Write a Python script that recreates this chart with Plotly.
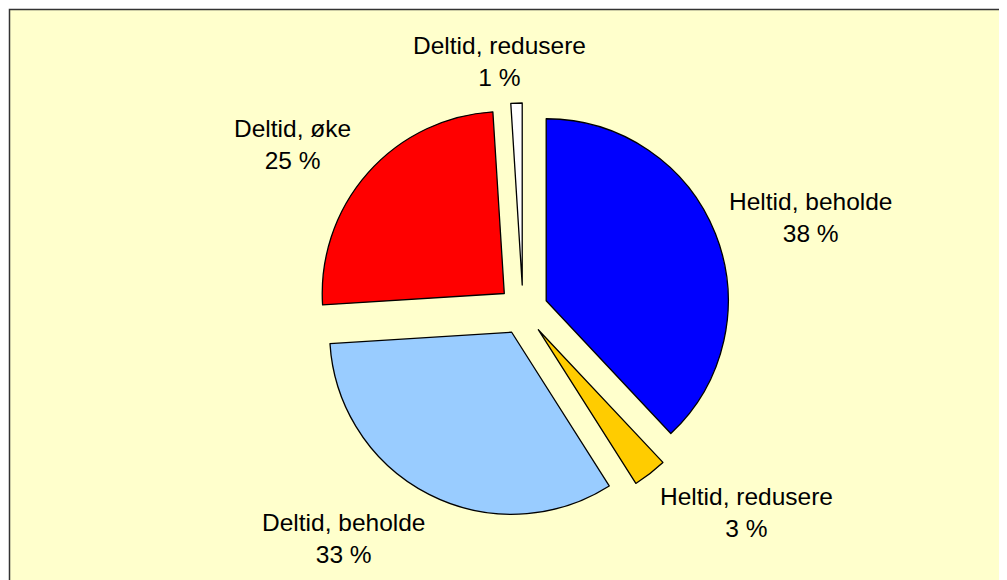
import plotly.graph_objects as go

labels = ['Heltid, beholde', 'Heltid, redusere', 'Deltid, beholde', 'Deltid, øke', 'Deltid, redusere']
values = [38, 3, 33, 25, 1]
colors = ['#0000FF', '#FFCC00', '#99CCFF', '#FF0000', '#FFFFFF']

W, H = 1007, 580
OFF = 8  # the page body adds an 8px margin around the figure

# label centres (pixels in the picture)
label_pos = [(810, 217), (746, 512), (343, 538), (292, 144), (499, 61)]


def px(x):
    return (x - OFF) / W


def py(y):
    return 1 - (y - OFF) / H


fig = go.Figure(
    data=[go.Pie(
        labels=labels,
        values=values,
        sort=False,
        direction='clockwise',
        rotation=0,
        pull=[0.137] * len(values),
        marker=dict(colors=colors, line=dict(color='black', width=1.3)),
        textinfo='none',
        hoverinfo='label+percent',
        showlegend=False,
        domain=dict(x=[px(316), px(730)], y=[py(517), py(103)]),
    )]
)

for lab, v, (x, y) in zip(labels, values, label_pos):
    fig.add_annotation(
        x=px(x), y=py(y), xref='paper', yref='paper',
        text=f'{lab}<br>{v} %', showarrow=False,
        xanchor='center', yanchor='middle', align='center',
        font=dict(family='Liberation Sans, Arial, sans-serif', size=24.5, color='black'),
    )

fig.add_shape(
    type='rect', xref='paper', yref='paper',
    x0=px(9.5), y0=-0.05, x1=1.05, y1=py(9.5),
    fillcolor='#FFFFCC', line=dict(color='#333333', width=1.5), layer='below',
)

fig.update_layout(
    width=W, height=H,
    margin=dict(l=0, r=0, t=0, b=0),
    paper_bgcolor='white',
    plot_bgcolor='white',
)

fig.write_html('out.html')
